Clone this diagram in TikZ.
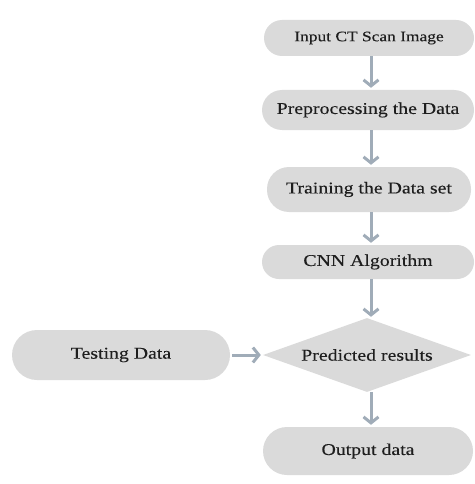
\documentclass[tikz,border=0pt]{standalone}
\usepackage{fontspec}
\setmainfont{Liberation Serif}[FakeStretch=1.2,FakeBold=0.2]
\usetikzlibrary{shapes.geometric,arrows.meta}
\definecolor{boxgray}{RGB}{218,218,218}
\definecolor{flowarrow}{RGB}{160,172,184}
\definecolor{labelink}{RGB}{30,30,30}
\begin{document}
\begin{tikzpicture}[x=1pt,y=-1pt,
  pill/.style={rectangle,fill=boxgray,draw=none,inner sep=0pt,text=labelink,
    minimum width=#1,font=\fontsize{16.5}{18}\selectfont},
  decision/.style={diamond,fill=boxgray,draw=none,inner sep=0pt,text=labelink,
    shape aspect=2.81,minimum width=208pt,minimum height=74pt,
    font=\fontsize{16.5}{18}\selectfont},
  flow/.style={draw=flowarrow,line width=3pt,
    -{Straight Barb[length=6pt,width=15pt,line width=3pt]},shorten >=2pt}]
  \useasboundingbox (0,0) rectangle (474,484);

  % main column of process steps
  \node[pill=210pt,minimum height=36pt,rounded corners=18pt,
        font=\fontsize{14.5}{16}\selectfont] (input) at (369,38) {Input CT Scan Image};
  \node[pill=212pt,minimum height=40pt,rounded corners=20pt] (prep) at (368,110) {Preprocessing the Data};
  \node[pill=204pt,minimum height=45pt,rounded corners=22pt] (train) at (369,189.5) {Training the Data set};
  \node[pill=212pt,minimum height=34pt,rounded corners=17pt] (cnn) at (368,262) {CNN Algorithm};
  \node[decision] (pred) at (367,355) {Predicted results};
  \node[pill=218pt,minimum height=50pt,rounded corners=25pt] (test) at (121,355) {Testing Data};
  \node[pill=210pt,minimum height=48pt,rounded corners=24pt] (out) at (368,451) {Output data};

  % connectors
  \draw[flow] (input.south -| 371,0) -- (prep.north -| 371,0);
  \draw[flow] (prep.south -| 371,0) -- (train.north -| 371,0);
  \draw[flow] (train.south -| 371,0) -- (cnn.north -| 371,0);
  \draw[flow] (cnn.south -| 371,0) -- ([yshift=-1pt]pred.north -| 371,0);
  \draw[flow] ([xshift=2pt]test.east) -- (pred.west);
  \draw[flow] (pred.south -| 371,0) -- (out.north -| 371,0);
\end{tikzpicture}
\end{document}
